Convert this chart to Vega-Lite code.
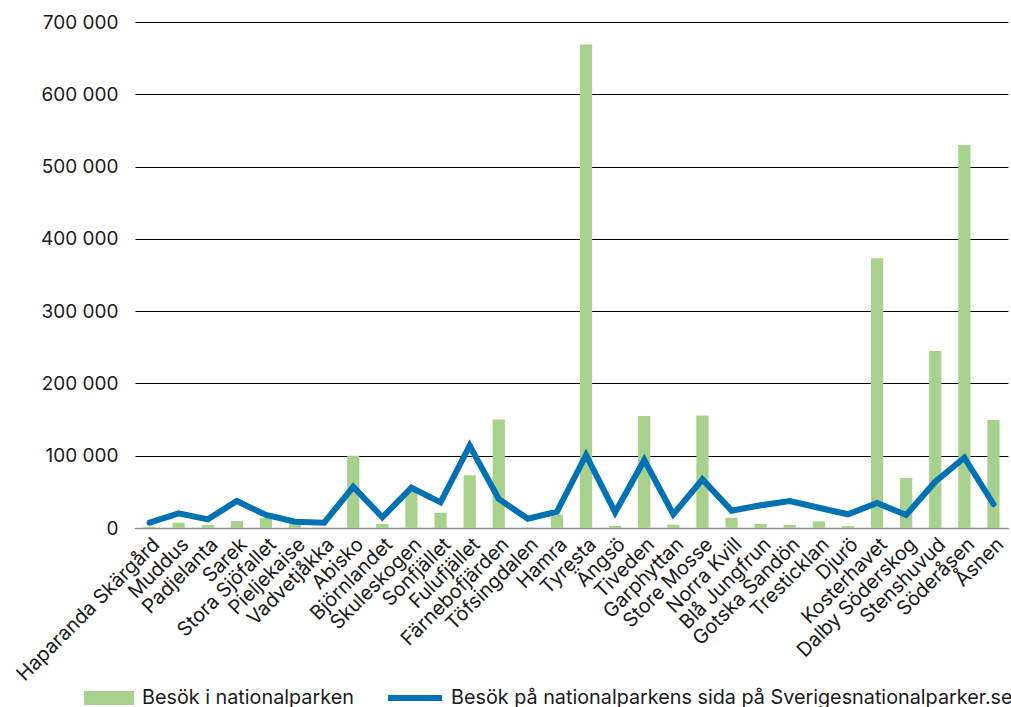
{
  "$schema": "https://vega.github.io/schema/vega-lite/v6.json",
  "width": 873,
  "height": 506,
  "autosize": "none",
  "padding": {"left": 135, "top": 22, "right": 3, "bottom": 179},
  "background": "white",
  "config": {
    "view": {"stroke": null},
    "font": "Inter",
    "axis": {"labelFont": "Inter", "labelColor": "#1a1a1a"},
    "legend": {"labelFont": "Inter", "labelColor": "#1a1a1a"}
  },
  "data": {
    "values": [
      {"park": "Haparanda Skärgård", "besok": 1500, "webb": 7300},
      {"park": "Muddus", "besok": 7300, "webb": 20300},
      {"park": "Padjelanta", "besok": 4000, "webb": 12000},
      {"park": "Sarek", "besok": 9700, "webb": 37300},
      {"park": "Stora Sjöfallet", "besok": 14000, "webb": 18000},
      {"park": "Pieljekaise", "besok": 6500, "webb": 8700},
      {"park": "Vadvetjåkka", "besok": 400, "webb": 7300},
      {"park": "Abisko", "besok": 100000, "webb": 57000},
      {"park": "Björnlandet", "besok": 5500, "webb": 14800},
      {"park": "Skuleskogen", "besok": 51000, "webb": 55700},
      {"park": "Sonfjället", "besok": 21000, "webb": 35500},
      {"park": "Fulufjället", "besok": 73000, "webb": 113800},
      {"park": "Färnebofjärden", "besok": 150000, "webb": 40100},
      {"park": "Töfsingdalen", "besok": 400, "webb": 12900},
      {"park": "Hamra", "besok": 18400, "webb": 22500},
      {"park": "Tyresta", "besok": 669000, "webb": 101000},
      {"park": "Ängsö", "besok": 2800, "webb": 21700},
      {"park": "Tiveden", "besok": 155000, "webb": 94000},
      {"park": "Garphyttan", "besok": 4600, "webb": 19000},
      {"park": "Store Mosse", "besok": 155500, "webb": 67300},
      {"park": "Norra Kvill", "besok": 14200, "webb": 24000},
      {"park": "Blå Jungfrun", "besok": 5500, "webb": 31400},
      {"park": "Gotska Sandön", "besok": 4200, "webb": 37300},
      {"park": "Tresticklan", "besok": 9300, "webb": 28000},
      {"park": "Djurö", "besok": 2800, "webb": 19000},
      {"park": "Kosterhavet", "besok": 373000, "webb": 34600},
      {"park": "Dalby Söderskog", "besok": 69000, "webb": 18000},
      {"park": "Stenshuvud", "besok": 245000, "webb": 64000},
      {"park": "Söderåsen", "besok": 530000, "webb": 97200},
      {"park": "Åsnen", "besok": 149500, "webb": 33200}
    ]
  },
  "encoding": {
    "x": {
      "field": "park",
      "type": "nominal",
      "sort": null,
      "title": null,
      "scale": {"paddingInner": 0, "paddingOuter": 0},
      "axis": {
        "labelAngle": -45,
        "labelFontSize": 19.8,
        "labelPadding": 6,
        "labelLimit": 400,
        "labelOverlap": false,
        "ticks": false,
        "domainColor": "#8c8c8c",
        "domainWidth": 1.5,
        "grid": false
      }
    }
  },
  "layer": [
    {
      "mark": {"type": "bar", "width": {"band": 0.42}},
      "encoding": {
        "y": {
          "field": "besok",
          "type": "quantitative",
          "title": null,
          "scale": {"domain": [0, 700000], "nice": false},
          "axis": {
            "values": [0, 100000, 200000, 300000, 400000, 500000, 600000, 700000],
            "format": ",d",
            "labelExpr": "replace(datum.label, /,/g, ' ')",
            "labelFontSize": 19,
            "labelPadding": 17,
            "ticks": false,
            "domain": false,
            "grid": true,
            "gridColor": "#000000",
            "gridWidth": 1
          }
        },
        "color": {
          "datum": "Besök i nationalparken",
          "scale": {"range": ["#a9d18e"]},
          "legend": {
            "title": null,
            "orient": "none",
            "legendX": -52,
            "legendY": 650,
            "symbolType": "M-1,-0.28L1,-0.28L1,0.28L-1,0.28Z",
            "symbolSize": 2500,
            "symbolOpacity": 1,
            "labelFontSize": 19.8,
            "labelOffset": 7,
            "labelLimit": 0
          }
        }
      }
    },
    {
      "mark": {"type": "line", "strokeWidth": 6, "strokeCap": "round", "strokeJoin": "miter"},
      "encoding": {
        "y": {"field": "webb", "type": "quantitative"},
        "stroke": {
          "datum": "Besök på nationalparkens sida på Sverigesnationalparker.se",
          "scale": {"range": ["#0071b3"]},
          "legend": {
            "title": null,
            "orient": "none",
            "legendX": 250,
            "legendY": 646,
            "symbolType": "stroke",
            "symbolSize": 2916,
            "symbolStrokeWidth": 6,
            "labelFontSize": 19.8,
            "labelOffset": 6,
            "labelLimit": 0
          }
        }
      }
    }
  ]
}
